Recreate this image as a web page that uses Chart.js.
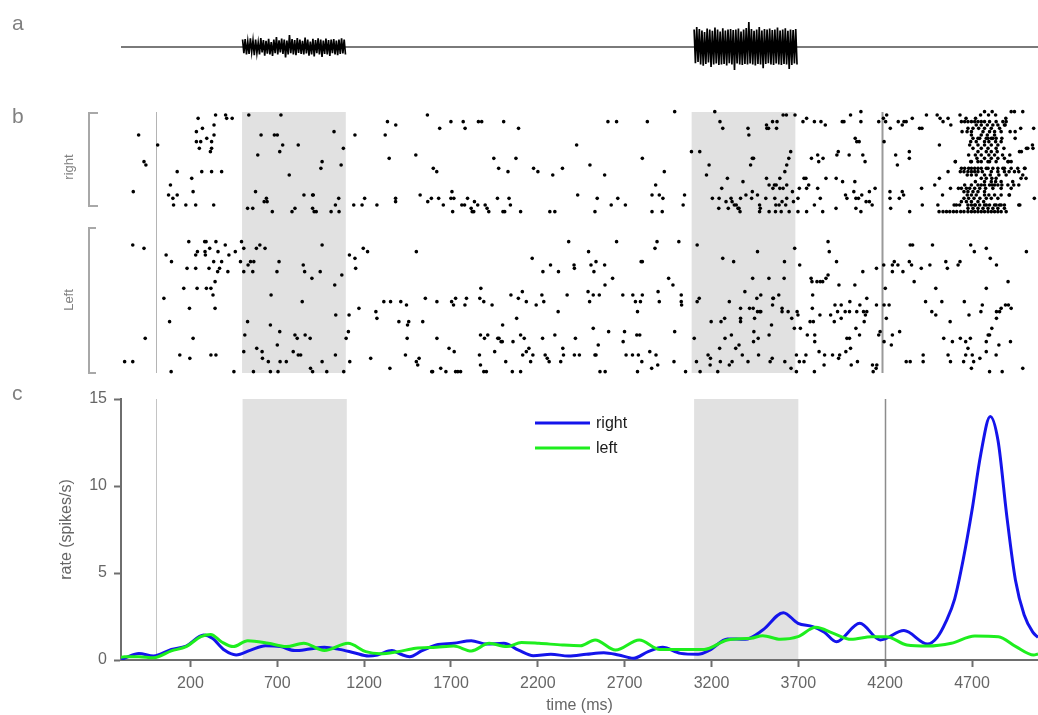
<!DOCTYPE html>
<html>
<head>
<meta charset="utf-8">
<title>Responses to right and left stimulation</title>
<script src="https://cdn.jsdelivr.net/npm/chart.js@4.4.0/dist/chart.umd.min.js"></script>
<style>
    body { margin: 0; background: #fff; font-family: 'Liberation Sans', Arial, sans-serif; }
    #figure { position: relative; width: 1038px; height: 715px; overflow: hidden; }
    #figure canvas { position: absolute; left: 0; }
    .panel-letter { position: absolute; left: 12px; font-size: 21px; line-height: 21px; color: #808080; }
    .group-label { position: absolute; font-size: 13px; color: #808080; white-space: nowrap;
                   transform: translate(-50%, -50%) rotate(-90deg); }
    .bracket { position: absolute; border: 2px solid #a8a8a8; border-right: none; box-sizing: border-box; }
</style>
</head>
<body>
<div id="figure">
    <canvas id="soundChart" width="1038" height="100" style="top:0"></canvas>
    <canvas id="rasterChart" width="1038" height="280" style="top:100px"></canvas>
    <canvas id="rateChart" width="1038" height="335" style="top:380px"></canvas>

    <div class="panel-letter" style="top:12px">a</div>
    <div class="panel-letter" style="top:105px">b</div>
    <div class="panel-letter" style="top:382px">c</div>

    <div class="bracket" style="left:88px;top:112px;width:10px;height:95px"></div>
    <div class="bracket" style="left:88px;top:227px;width:8px;height:147px"></div>
    <div class="group-label" style="left:68px;top:167px">right</div>
    <div class="group-label" style="left:68px;top:300px">Left</div>
</div>

<script>
const FONT = "'Liberation Sans', Arial, sans-serif";
const TIME_MIN = -200;
const TIME_MAX = 5080;

// axis ticks
const timeTicks = [200, 700, 1200, 1700, 2200, 2700, 3200, 3700, 4200, 4700];
const rateTicks = [0, 5, 10, 15];

// stimulus periods (shaded) and event markers (ms)
const stimOn = [500, 3100];
const stimOff = [1100, 3700];
const eventTimes = [0, 4200];

// panel a: noise bursts, one sample every 7.5 ms
const sampleStep = 7.5;
const softBurst = [0.3,-0.25,0.32,-0.3,0.22,-0.28,0.35,-0.2,0.26,-0.33,0.3,-0.24,0.18,-0.3,0.36,-0.22,
    0.28,-0.35,0.25,-0.27,0.33,-0.3,0.2,-0.36,0.3,-0.25,0.4,-0.3,0.27,-0.22,0.34,-0.28,0.3,-0.42,0.26,-0.3,
    0.48,-0.25,0.32,-0.3,0.28,-0.33,0.36,-0.24,0.3,-0.28,0.25,-0.3,0.38,-0.26,0.3,-0.35,0.22,-0.3,0.33,-0.38,
    0.28,-0.25,0.35,-0.3,0.3,-0.4,0.26,-0.28,0.34,-0.3,0.28,-0.36,0.3,-0.25,0.32,-0.3,0.26,-0.33,0.3,-0.28,
    0.35,-0.26,0.3,-0.3];
const loudBurst = [0.7,-0.65,0.8,-0.6,0.72,-0.7,0.66,-0.75,0.6,-0.68,0.74,-0.62,0.7,-0.8,0.65,-0.7,0.78,-0.66,
    0.7,-0.72,0.62,-0.7,0.75,-0.68,0.66,-0.74,0.7,-0.65,0.72,-0.7,0.68,-0.92,0.7,-0.66,0.74,-0.7,0.62,-0.72,
    0.7,-0.68,0.76,-0.7,1.0,-0.66,0.72,-0.7,0.65,-0.74,0.7,-0.68,0.8,-0.7,0.66,-0.85,0.72,-0.68,0.7,-0.65,
    0.74,-0.7,0.68,-0.72,0.7,-0.66,0.78,-0.7,0.66,-0.72,0.7,-0.68,0.75,-0.7,0.65,-0.88,0.7,-0.72,0.68,-0.66,
    0.72,-0.7];

// panel b: spikes as [time ms, trial]
const rightSpikes = [
    [347,3],[405,3],[411,4],[443,4],[246,4],[539,3],[725,3],[338,6],[271,7],[236,8],[338,9],[-98,9],[296,10],
    [236,11],[261,11],[324,11],[610,9],[687,9],[704,9],[12,12],[253,13],[324,13],[317,14],[735,12],[825,12],
    [1032,8],[1086,13],[718,14],[591,15],[-67,17],[-56,18],[963,17],[956,19],[1073,18],[125,20],[267,20],
    [324,20],[382,20],[209,22],[773,21],[86,24],[-129,26],[217,26],[75,27],[100,28],[125,27],[104,30],
    [175,30],[232,30],[336,30],[578,26],[628,29],[641,28],[645,29],[858,27],[908,27],[912,27],[1059,28],
    [532,31],[562,31],[675,32],[789,32],[806,31],[908,31],[917,32],[929,32],[1015,32],[1040,30],[1061,32],
    [1572,3],[1341,5],[1389,6],[1708,5],[1779,5],[1790,7],[1867,5],[1886,5],[2013,5],[2099,7],[1643,7],
    [1153,9],[1328,9],[2435,12],[1351,16],[1505,15],[1956,16],[2084,16],[1984,19],[2038,20],[2186,19],
    [2211,20],[2297,21],[2353,19],[1606,19],[1626,20],[1714,26],[1530,27],[2441,27],[1209,28],[1146,30],
    [1194,30],[1280,30],[1388,28],[1388,29],[1574,29],[1595,28],[1637,28],[1664,30],[1708,28],[1725,28],
    [1718,32],[1771,30],[1787,30],[1804,28],[1825,31],[1831,32],[1840,32],[1844,29],[1863,30],[1906,30],
    [1917,31],[1927,32],[1977,28],[2009,32],[2019,32],[2044,28],[2052,30],[2111,32],[2280,32],[2309,32],
    [3002,2],[2616,5],[2666,5],[2844,5],[3234,2],[3264,5],[3280,7],[3426,7],[3431,9],[3533,6],[3535,7],
    [3545,7],[3568,5],[3591,7],[3594,5],[3629,3],[3648,3],[3698,3],[3744,5],[3765,4],[3099,14],[3147,14],
    [2815,16],[2512,18],[2597,21],[2942,20],[2892,24],[3201,18],[3186,21],[3274,25],[3307,22],[3397,23],
    [3441,18],[3451,16],[3458,16],[3533,22],[3548,24],[3579,24],[3589,24],[3610,22],[3650,24],[3639,20],
    [3650,18],[3662,16],[3673,14],[3750,22],[3761,22],[3765,25],[3723,25],[3451,26],[3481,27],[3570,25],
    [3610,25],[3629,25],[3683,26],[2554,28],[2673,28],[2635,30],[2717,30],[2871,27],[2913,27],[2934,28],
    [3059,27],[3051,30],[2541,32],[2871,32],[2930,32],[3220,28],[3259,28],[3257,31],[3299,29],[3312,31],
    [3328,28],[3334,29],[3347,30],[3358,30],[3368,31],[3374,31],[3380,32],[3383,28],[3414,27],[3447,28],
    [3493,30],[3497,31],[3493,32],[3529,28],[3548,32],[3581,28],[3587,30],[3585,32],[3606,30],[3618,32],
    [3623,29],[3644,30],[3650,28],[3664,32],[3689,29],[3715,28],[3715,32],[3765,32],
    [3810,5],[3848,5],[3873,6],[3971,5],[3981,5],[4019,3],[4079,2],[4079,5],[4182,5],[4209,4],[4228,3],
    [4222,5],[4249,7],[4295,5],[4318,6],[4328,5],[4341,5],[4376,4],[4418,7],[4432,7],[4458,3],[4520,3],
    [4537,4],[4554,5],[4583,4],[4599,6],[4652,3],[4687,4],[4742,4],[4771,3],[4794,2],[4817,3],[4838,2],
    [4858,3],[4948,2],[4967,2],[5015,2],[4917,4],[4913,6],[5003,7],[5078,7],[4046,10],[4055,11],[4069,11],
    [3948,14],[3940,15],[4011,15],[4090,15],[4103,17],[3793,16],[3829,15],[3835,17],[3860,16],[4213,11],
    [4280,15],[4290,18],[4359,14],[4359,16],[4533,12],[4625,17],[5007,14],[5036,13],[5071,12],[3777,24],
    [3829,25],[3877,22],[3936,22],[3973,23],[4044,23],[3990,27],[3998,28],[4038,26],[4050,28],[4065,28],
    [4084,27],[4128,26],[4161,25],[4109,29],[4128,29],[4144,30],[3844,28],[3810,30],[3858,32],[3935,31],
    [4050,31],[4079,32],[4247,26],[4247,28],[4251,31],[4301,28],[4318,26],[4326,27],[4361,32],[4430,25],
    [4434,30],[4506,24],[4533,22],[4524,30],[4551,27],[4583,20],[4597,25],[4643,25],[4618,30],[4631,30],
    [4998,30],[5082,28],[4938,27],[5005,22],
    // dense response after the second marker
    [4660,5],[4679,5],[4698,5],[4718,5],[4737,5],[4756,5],[4775,5],[4794,5],[4823,5],[4861,5],[4900,5],[4919,5],
    [4746,6],[4775,6],[4810,6],[4842,6],[4871,6],[4909,6],
    [4698,7],[4727,7],[4760,7],[4794,7],[4833,7],[4881,7],[4664,8],[4693,8],[4718,8],[4785,8],[4823,8],
    [4852,8],[4890,8],[4942,8],[4971,8],
    [4718,9],[4775,9],[4810,9],[4852,9],
    [4756,10],[4814,10],[4842,10],[4894,10],[4971,10],[4727,10],[4766,10],[4804,10],[4833,10],[4861,10],
    [4714,11],[4746,11],[4794,11],[4819,11],[4858,11],[4890,11],
    [4708,12],[4756,12],[4794,12],[4833,12],[4871,12],
    [4727,13],[4775,13],[4814,13],[4861,13],[4906,13],[5044,13],[5074,13],
    [4756,14],[4804,14],[4833,14],[4867,14],[4996,14],
    [4702,15],[4741,15],[4775,15],[4819,15],[4852,15],[4898,15],[4940,15],
    [4750,16],[4794,16],[4833,16],[4871,16],[4909,16],
    [4714,17],[4756,17],[4814,17],[4861,17],[4932,17],[4948,17],[4625,17],[4718,17],[4775,17],[4823,17],[4929,17],
    [4660,19],[4679,19],[4702,19],[4718,19],[4737,19],[4775,19],[4814,19],[4871,19],[4909,19],[4948,19],
    [4986,19],[5028,19],[4756,19],[4804,19],[4842,19],[4900,19],[5025,19],
    [4654,20],[4675,20],[4698,20],[4718,20],[4737,20],[4756,20],[4781,20],[4833,20],[4871,20],[4909,20],
    [4936,20],[4967,20],[4992,20],
    [4694,21],[4718,21],[4746,21],[4794,21],[4827,21],[4877,21],[4919,21],[5015,21],
    [4775,22],[4804,22],[4836,22],[4861,22],[5034,22],
    [4741,23],[4794,23],[4833,23],[4858,23],[4890,23],[4957,23],
    [4775,24],[4823,24],[4852,24],[4894,24],[4929,24],[4963,24],[4992,24],
    [4679,24],[4718,24],[4756,24],[4794,24],[4838,24],[4871,24],
    [4660,25],[4689,25],[4708,25],[4737,25],[4766,25],[4800,25],[4842,25],[4890,25],[4948,25],
    [4675,26],[4698,26],[4727,26],[4756,26],[4794,26],
    [4694,27],[4718,27],[4746,27],[4794,27],[4819,27],[4852,27],[4890,27],[4936,27],
    [4675,28],[4702,28],[4733,28],[4767,28],[4804,28],[4833,28],[4871,28],
    [4660,29],[4689,29],[4718,29],[4756,29],[4789,29],
    [4650,30],[4698,30],[4737,30],[4766,30],[4804,30],[4823,30],[4861,30],[4890,30],[4909,30],
    [4718,30],[4741,30],[4794,30],[4852,30],[4881,30],[4992,30],
    [4698,31],[4727,31],[4756,31],[4785,31],[4814,31],[4842,31],[4871,31],[4909,31],
    [4531,32],[4554,32],[4574,32],[4593,32],[4614,32],[4633,32],[4656,32],[4675,32],[4698,32],[4718,32],
    [4737,32],[4756,32],[4775,32],[4794,32],[4814,32],[4833,32],[4852,32],[4871,32],[4890,32],[4919,32]
];

const leftSpikes = [
    [-132,42],[-67,43],[192,41],[284,41],[292,41],[349,41],[403,42],[497,41],[963,42],[603,42],[313,43],
    [242,44],[232,45],[286,44],[288,45],[361,44],[461,44],[510,43],[583,43],[633,43],[61,45],[424,45],
    [92,47],[336,47],[382,47],[491,47],[549,47],[568,47],[535,48],[714,47],[854,48],[182,49],[232,49],
    [309,49],[370,49],[359,50],[418,50],[510,50],[562,50],[702,50],[862,50],[952,50],[904,52],[1077,51],
    [344,53],[163,55],[240,55],[294,55],[320,55],[332,57],[1036,54],[668,57],[48,58],[848,59],[196,61],
    [344,61],[1042,63],[81,65],[532,65],[664,66],[718,68],[516,69],[806,69],[865,69],[819,70],[894,70],
    [-60,70],[217,70],[704,72],[585,73],[510,74],[616,74],[796,74],[825,75],[839,75],[1040,75],[140,75],
    [198,76],[320,75],[349,75],[-179,77],[-132,77],[618,76],[652,77],[720,77],[756,77],[963,77],[90,80],
    [453,80],[566,80],[664,80],[708,80],[896,79],[908,80],[990,80],[1088,80],
    [1121,45],[1153,46],[1201,43],[1226,44],[1508,44],[1157,49],[2178,46],[2240,50],[2284,48],[2330,50],
    [2389,41],[2420,48],[2422,49],[1881,55],[1176,61],[1119,63],[1274,62],[1280,64],[1320,59],[1359,59],
    [1418,59],[1451,60],[1560,58],[1627,59],[1712,59],[1723,60],[1735,58],[1789,60],[1798,58],[1875,58],
    [1898,59],[1946,60],[2055,57],[2098,58],[2121,56],[2144,59],[2201,60],[2234,57],[2245,59],[2328,62],
    [2380,57],[2088,64],[1407,65],[1457,66],[1464,65],[1545,65],[2007,66],[1115,68],[1102,70],[1455,70],
    [1627,70],[1879,69],[1902,70],[1921,69],[1979,70],[1986,70],[1998,71],[2005,71],[2067,71],[2111,69],
    [2132,70],[2238,70],[2309,69],[2428,70],[1697,73],[1727,74],[1961,74],[2123,75],[2144,74],[2159,73],
    [2182,75],[2253,75],[2265,76],[2355,73],[2359,75],[2422,75],[1123,77],[1244,76],[1445,75],[1508,77],
    [1516,78],[1524,76],[1873,75],[1879,78],[1898,80],[1913,80],[2025,77],[2169,77],[2276,77],[2343,77],
    [1355,79],[1597,80],[1602,80],[1649,79],[1679,80],[1735,80],[1748,80],[1764,80],[2063,80],[2111,80],
    [2666,41],[2900,41],[2888,43],[3026,41],[3132,42],[2504,44],[2518,48],[2547,47],[2535,50],[2597,48],
    [2808,47],[2815,47],[3280,46],[3343,47],[3481,44],[3637,47],[3696,43],[3725,48],[2643,52],[2967,52],
    [2992,54],[2599,54],[3453,52],[3547,52],[3635,52],[2501,56],[2531,57],[2566,57],[2510,59],[2702,57],
    [2760,57],[2775,59],[2804,59],[2815,57],[2787,62],[2906,56],[2913,59],[3040,57],[3040,59],[3042,60],
    [3144,58],[3132,59],[3318,59],[3383,61],[3408,56],[3435,61],[3456,61],[3464,64],[3477,58],[3500,57],
    [3481,62],[3495,62],[3500,62],[3570,58],[3573,58],[3568,60],[3604,57],[3623,61],[3623,62],[3658,62],
    [3710,62],[3715,63],[3679,64],[3694,67],[3729,67],[3769,69],[3291,64],[3270,65],[3213,65],[3383,64],
    [3383,65],[3460,68],[3562,66],[3548,69],[2531,67],[2620,68],[2712,68],[2783,69],[2800,69],[3002,68],
    [2560,72],[2704,71],[3293,70],[3330,69],[3115,70],[3262,73],[3355,73],[3374,72],[3458,71],[3485,70],
    [2451,75],[2541,75],[2547,75],[2721,75],[2758,75],[2792,75],[2858,74],[2894,75],[2812,77],[2869,79],
    [2904,78],[2998,77],[2570,80],[2600,80],[2787,80],[3065,80],[3128,77],[3149,80],[3195,75],[3209,76],
    [3207,78],[3251,80],[3266,77],[3318,78],[3334,77],[3393,75],[3426,77],[3487,75],[3554,77],[3566,76],
    [3639,77],[3675,79],[3706,80],[3706,75],[3723,77],[3750,77],[3761,75],
    [3889,41],[3896,44],[3938,47],[4090,50],[4169,49],[3791,52],[3796,53],[3825,53],[3844,53],[3858,53],
    [3877,52],[3889,51],[3952,54],[4044,54],[3800,57],[4113,58],[3798,61],[3929,60],[3965,60],[4015,59],
    [4073,60],[3842,63],[3904,63],[3944,62],[3988,62],[4013,62],[4055,62],[4094,62],[4105,63],[4113,62],
    [4169,60],[3785,65],[3804,65],[3925,65],[3965,64],[4050,67],[4098,65],[3812,69],[3812,71],[3998,70],
    [4013,70],[4071,69],[4019,73],[4182,69],[4190,68],[3837,74],[3869,75],[3915,75],[3956,75],[3992,74],
    [3950,76],[3866,78],[4023,78],[4059,77],[3810,80],[4146,78],[4171,78],[4150,80],[4167,79],[4211,48],
    [4261,48],[4272,47],[4293,48],[4322,50],[4359,47],[4372,48],[4364,42],[4378,42],[4428,49],[4478,48],
    [4493,42],[4261,50],[4570,47],[4579,49],[4641,48],[4652,47],[4714,42],[4735,44],[4804,43],[4827,46],
    [4863,48],[5036,44],[4387,53],[4220,55],[4512,55],[4804,55],[4930,53],[4213,60],[4242,60],[4453,59],
    [4547,59],[4677,59],[4781,60],[4489,62],[4512,63],[4704,63],[4773,62],[4863,62],[4881,62],[4890,61],
    [4915,60],[4932,60],[4948,61],[4226,64],[4595,65],[4863,64],[4261,69],[4303,68],[4213,71],[4255,72],
    [4558,70],[4608,71],[4654,70],[4685,71],[4712,70],[4815,69],[4823,69],[4836,67],[4877,72],[4944,71],
    [4804,71],[4698,73],[4685,75],[4723,75],[4804,74],[4861,75],[4439,75],[4341,77],[4364,77],[4439,77],
    [4583,75],[4597,77],[4673,77],[4731,77],[4767,76],[4718,79],[4823,80],[4896,80],[5015,79]
];

// panel c: smoothed firing rate (spikes/s)
const rightRateTimes = [-200,-181,-97,-13,90,175,276,326,395,463,547,632,717,801,886,971,1056,1141,1225,1277,
    1360,1411,1462,1530,1615,1716,1817,1903,2005,2089,2174,2275,2377,2479,2580,2665,2750,2835,2919,3021,
    3123,3190,3292,3394,3495,3614,3698,3783,3850,3919,4054,4172,4308,4444,4500,4550,4600,4650,4700,4750,
    4805,4850,4900,4950,5000,5050,5080];
const rightRate = [0.05,0.1,0.38,0.23,0.61,0.8,1.44,1.25,0.57,0.29,0.57,0.82,0.77,0.54,0.63,0.73,0.61,0.42,0.23,0.29,
    0.54,0.33,0.19,0.52,0.86,0.96,1.11,0.92,0.96,0.57,0.25,0.33,0.23,0.33,0.42,0.29,0.1,0.48,0.73,0.38,
    0.33,0.57,1.21,1.19,1.72,2.72,2.11,1.92,1.6,1.05,2.11,1.15,1.69,0.92,1.3,2.2,3.5,5.8,8.6,11.8,
    14.0,12.6,8.3,4.6,2.6,1.6,1.3];
const leftRateTimes = [-200,-181,-97,-13,90,175,260,317,378,446,530,649,751,852,971,1107,1209,1293,1394,1496,
    1615,1716,1817,1920,2021,2106,2207,2343,2445,2530,2648,2784,2903,3021,3157,3292,3428,3495,3597,3698,
    3800,3902,4004,4122,4207,4325,4444,4581,4716,4852,4953,5055,5080];
const leftRate = [0.15,0.19,0.19,0.13,0.52,0.77,1.34,1.47,1.05,0.77,1.11,0.96,0.77,0.96,0.54,0.96,0.48,0.36,0.48,0.67,
    0.73,0.8,0.52,0.96,0.77,1.01,0.96,0.86,0.82,1.15,0.57,1.15,0.61,0.61,0.61,1.15,1.25,1.4,1.19,1.34,
    1.88,1.53,1.19,1.34,1.34,0.86,0.8,0.96,1.38,1.34,0.77,0.29,0.35];

Chart.defaults.font.family = FONT;
Chart.defaults.animation = false;

// shaded stimulus periods and vertical event markers, drawn behind everything
const stimulusBands = {
    id: 'stimulusBands',
    beforeDraw(chart, args, opts) {
        const { ctx, chartArea } = chart;
        const x = chart.scales.x;
        ctx.save();
        ctx.fillStyle = '#e1e1e1';
        stimOn.forEach((on, i) => {
            const x0 = x.getPixelForValue(on);
            const x1 = x.getPixelForValue(stimOff[i]);
            ctx.fillRect(x0, chartArea.top, x1 - x0, chartArea.bottom - chartArea.top);
        });
        eventTimes.forEach((t, i) => {
            const px = Math.round(x.getPixelForValue(t)) + 0.5;
            ctx.strokeStyle = opts.lineColors[i];
            ctx.lineWidth = opts.lineWidths[i];
            ctx.beginPath();
            ctx.moveTo(px, chartArea.top);
            ctx.lineTo(px, chartArea.bottom);
            ctx.stroke();
        });
        ctx.restore();
    }
};

// small legend placed inside the rate panel
const lineLegend = {
    id: 'lineLegend',
    afterDraw(chart, args, opts) {
        const { ctx } = chart;
        ctx.save();
        ctx.font = '16px ' + FONT;
        ctx.textBaseline = 'middle';
        ctx.textAlign = 'left';
        chart.data.datasets.forEach((ds, i) => {
            const y = opts.top + i * opts.rowHeight;
            ctx.strokeStyle = ds.borderColor;
            ctx.lineWidth = 3;
            ctx.beginPath();
            ctx.moveTo(opts.left, y);
            ctx.lineTo(opts.left + opts.lineLength, y);
            ctx.stroke();
            ctx.fillStyle = '#1a1a1a';
            ctx.fillText(ds.label, opts.left + opts.lineLength + 6, y + 1);
        });
        ctx.restore();
    }
};

function hiddenTimeAxis() {
    return { type: 'linear', min: TIME_MIN, max: TIME_MAX, display: false };
}

function burstPoints(start, samples) {
    return samples.map((v, i) => ({ x: start + i * sampleStep, y: v }));
}

// panel a
new Chart(document.getElementById('soundChart'), {
    type: 'scatter',
    data: {
        datasets: [
            { data: burstPoints(stimOn[0], softBurst), showLine: true, borderColor: '#000', borderWidth: 1.7, pointRadius: 0 },
            { data: burstPoints(stimOn[1], loudBurst), showLine: true, borderColor: '#000', borderWidth: 1.7, pointRadius: 0 },
            { data: [{ x: TIME_MIN, y: 0 }, { x: TIME_MAX, y: 0 }], showLine: true, borderColor: '#7a7a7a', borderWidth: 2, pointRadius: 0 }
        ]
    },
    options: {
        responsive: false,
        devicePixelRatio: 1,
        layout: { padding: { left: 121, right: 0, top: 22, bottom: 28 } },
        scales: {
            x: hiddenTimeAxis(),
            y: { type: 'linear', min: -1, max: 1, display: false }
        },
        plugins: { legend: { display: false }, tooltip: { enabled: false } }
    }
});

// panel b
const spikeStyle = { backgroundColor: '#000', borderWidth: 0, pointRadius: 1.8, clip: false };
new Chart(document.getElementById('rasterChart'), {
    type: 'scatter',
    data: {
        datasets: [
            Object.assign({ label: 'right', data: rightSpikes.map(([t, k]) => ({ x: t, y: k })) }, spikeStyle),
            Object.assign({ label: 'Left', data: leftSpikes.map(([t, k]) => ({ x: t, y: k })) }, spikeStyle)
        ]
    },
    options: {
        responsive: false,
        devicePixelRatio: 1,
        layout: { padding: { left: 121, right: 0, top: 12, bottom: 7 } },
        scales: {
            x: hiddenTimeAxis(),
            y: { type: 'linear', min: 2.1, max: 80.4, reverse: true, display: false }
        },
        plugins: {
            legend: { display: false },
            tooltip: { enabled: false },
            stimulusBands: { lineColors: ['#b4b4b4', '#9a9a9a'], lineWidths: [1, 2] }
        }
    },
    plugins: [stimulusBands]
});

// panel c
const axisGray = '#6e6e6e';
new Chart(document.getElementById('rateChart'), {
    type: 'scatter',
    data: {
        datasets: [
            {
                label: 'right', order: 1,
                data: rightRateTimes.map((t, i) => ({ x: t, y: rightRate[i] })),
                showLine: true, borderColor: 'rgb(20, 20, 235)', borderWidth: 3, pointRadius: 0,
                cubicInterpolationMode: 'monotone'
            },
            {
                label: 'left', order: 0,
                data: leftRateTimes.map((t, i) => ({ x: t, y: leftRate[i] })),
                showLine: true, borderColor: 'rgb(30, 238, 30)', borderWidth: 3, pointRadius: 0,
                cubicInterpolationMode: 'monotone'
            }
        ]
    },
    options: {
        responsive: false,
        devicePixelRatio: 1,
        layout: { padding: { left: 0, right: 0, top: 19, bottom: 0 } },
        scales: {
            x: {
                type: 'linear', min: TIME_MIN, max: TIME_MAX,
                afterBuildTicks: scale => { scale.ticks = timeTicks.map(v => ({ value: v })); },
                afterFit: scale => { scale.height = 55; },
                grid: { drawOnChartArea: false, drawTicks: true, tickLength: 7, tickWidth: 2, tickColor: axisGray },
                border: { color: axisGray, width: 2 },
                ticks: {
                    color: '#666', font: { size: 16 }, padding: 7, autoSkip: false, maxRotation: 0,
                    callback: value => String(value)
                },
                title: { display: true, text: 'time (ms)', color: '#666', font: { size: 16 }, padding: { top: 0, bottom: 0 } }
            },
            y: {
                type: 'linear', min: 0, max: 15,
                afterBuildTicks: scale => { scale.ticks = rateTicks.map(v => ({ value: v })); },
                afterFit: scale => { scale.width = 121; },
                grid: { drawOnChartArea: false, drawTicks: true, tickLength: 7, tickWidth: 2, tickColor: axisGray },
                border: { color: axisGray, width: 2 },
                ticks: { color: '#666', font: { size: 16 }, padding: 7, callback: value => String(value) },
                title: { display: true, text: 'rate (spikes/s)', color: '#666', font: { size: 16 }, padding: { top: 57, bottom: 0 } }
            }
        },
        plugins: {
            legend: { display: false },
            tooltip: { enabled: false },
            stimulusBands: { lineColors: ['#c4c4c4', '#8c8c8c'], lineWidths: [1, 1.5] },
            lineLegend: { left: 535, top: 43, rowHeight: 25, lineLength: 55 }
        }
    },
    plugins: [stimulusBands, lineLegend]
});
</script>
</body>
</html>
